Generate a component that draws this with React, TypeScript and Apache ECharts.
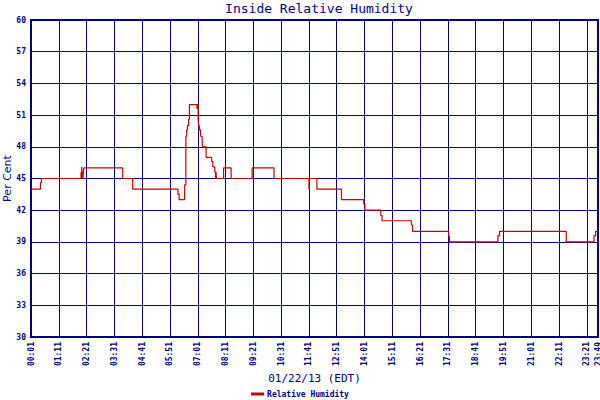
import { useEffect, useRef } from 'react';
import * as echarts from 'echarts';

// readings: time of change (HH:MM) and the humidity value held from then on
const times = [
  '00:01', '00:25', '00:27', '02:07', '02:08', '02:09', '02:10', '02:11', '02:12', '02:13',
  '02:14', '03:52', '04:17', '06:11', '06:14', '06:28', '06:31', '06:33', '06:35', '06:38',
  '06:40', '06:59', '07:00', '07:02', '07:03', '07:05', '07:08', '07:12', '07:13', '07:22',
  '07:36', '07:39', '07:44', '07:46', '07:47', '07:48', '08:06', '08:25', '09:18', '10:13',
  '11:41', '11:42', '12:01', '13:03', '13:59', '14:02', '14:42', '14:45', '15:59', '16:02',
  '17:33', '17:35', '19:37', '19:41', '22:29', '23:39', '23:43', '23:49',
];
const humidity = [
  44, 44.6, 45, 45.6, 45, 46.1, 45, 45.6, 45, 45.6,
  46, 45, 44, 43.5, 43, 44.4, 49, 49.6, 50, 50.6,
  52, 51.6, 52, 50.6, 50, 49.6, 49, 48.5, 48, 47,
  46.6, 46.1, 45.6, 45, 45.6, 45, 46, 45, 46, 45,
  44, 45, 44, 43, 42.6, 42, 41.5, 41, 40.6, 40,
  39.5, 39, 39.6, 40, 39, 39.6, 40, 40,
];

const START_MIN = 1; // 00:01
const END_MIN = 23 * 60 + 49; // 23:49
const NAVY = '#000080';
const RED = '#cc0000';
const MONO = '"DejaVu Sans Mono", "Liberation Mono", monospace';

const toMin = (t: string) => {
  const [h, m] = t.split(':').map(Number);
  return h * 60 + m;
};
const fmt = (min: number) => {
  const h = Math.floor(min / 60);
  const m = Math.round(min % 60);
  return `${String(h).padStart(2, '0')}:${String(m).padStart(2, '0')}`;
};

export default function App() {
  const ref = useRef<HTMLDivElement>(null);

  useEffect(() => {
    if (!ref.current) return;
    const chart = echarts.init(ref.current, undefined, { renderer: 'svg' });
    // x values are minutes after 00:01 so the axis starts at 0
    const data = times.map((t, i) => [toMin(t) - START_MIN, humidity[i]]);

    chart.setOption({
      animation: false,
      backgroundColor: '#ffffff',
      title: {
        text: 'Inside Relative Humidity',
        left: 314,
        top: -3,
        textAlign: 'center',
        textStyle: { fontFamily: MONO, fontSize: 13, fontWeight: 'normal', color: NAVY },
      },
      legend: {
        data: ['Relative Humidity'],
        top: 385,
        left: 'center',
        icon: 'rect',
        itemWidth: 13,
        itemHeight: 3,
        itemGap: 4,
        textStyle: { fontFamily: MONO, fontSize: 8, fontWeight: 'bold', color: NAVY, padding: [0, 0, 0, -2] },
      },
      grid: {
        left: 31,
        right: 2,
        top: 20,
        bottom: 63,
        outerBoundsMode: 'none',
        show: true,
        borderColor: NAVY,
        borderWidth: 2,
        backgroundColor: '#ffffff',
      },
      xAxis: {
        type: 'value',
        min: 0,
        max: END_MIN - START_MIN,
        interval: 70,
        name: '01/22/13 (EDT)',
        nameLocation: 'middle',
        nameGap: 36,
        nameMoveOverlap: false,
        nameTextStyle: { fontFamily: MONO, fontSize: 11, color: NAVY },
        axisLine: { show: false },
        axisTick: { show: false },
        splitLine: { show: true, lineStyle: { color: NAVY, width: 1 } },
        axisLabel: {
          rotate: 90,
          margin: 5,
          showMinLabel: true,
          showMaxLabel: true,
          fontFamily: MONO,
          fontSize: 8,
          fontWeight: 'bold',
          color: NAVY,
          formatter: (v: number) => fmt(v + START_MIN),
        },
      },
      yAxis: {
        type: 'value',
        min: 30,
        max: 60,
        interval: 3,
        name: 'Per Cent',
        nameLocation: 'middle',
        nameRotate: 90,
        nameGap: 18,
        nameMoveOverlap: false,
        nameTextStyle: { fontFamily: '"DejaVu Sans", sans-serif', fontSize: 11, color: NAVY },
        axisLine: { show: false },
        axisTick: { show: false },
        splitLine: { show: true, lineStyle: { color: NAVY, width: 1 } },
        axisLabel: {
          margin: 5,
          fontFamily: MONO,
          fontSize: 8,
          fontWeight: 'bold',
          color: NAVY,
        },
      },
      series: [
        {
          name: 'Relative Humidity',
          type: 'line',
          step: 'end',
          data,
          showSymbol: false,
          color: RED,
          lineStyle: { color: RED, width: 1.2 },
        },
      ],
    });

    return () => chart.dispose();
  }, []);

  return (
    <div
      ref={ref}
      style={{ position: 'absolute', left: 0, top: 0, width: 600, height: 400 }}
    />
  );
}
